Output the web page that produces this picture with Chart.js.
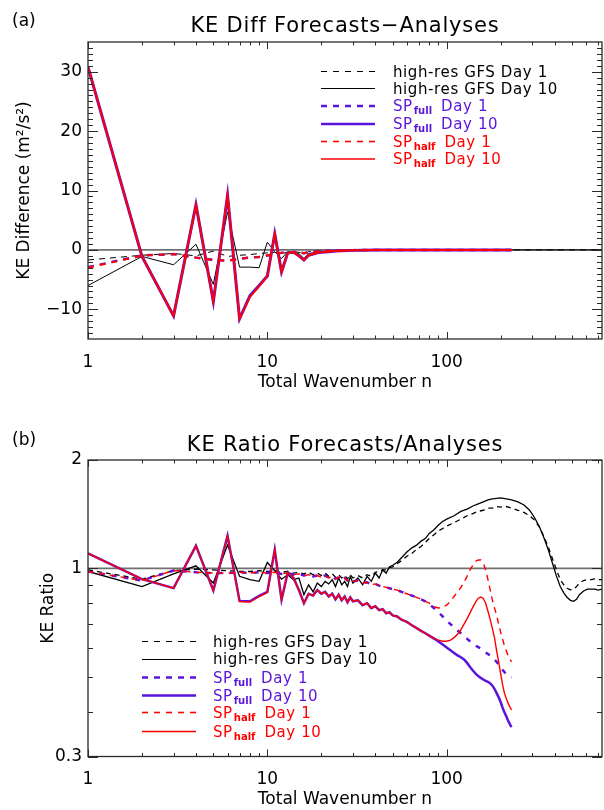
<!DOCTYPE html>
<html><head><meta charset="utf-8">
<script src="https://cdn.jsdelivr.net/npm/chart.js@4.4.1/dist/chart.umd.min.js"></script>
<style>html,body{margin:0;padding:0;background:#fff;}canvas{display:block;}</style>
</head><body>
<canvas id="ca" width="604" height="405"></canvas>
<canvas id="cb" width="604" height="405"></canvas>
<script>
// ---------- Panel (a): KE difference ----------
const nTopSP  = [1,2,3,4,5,6,7,8,9,10,11,12,13,14,15,16,17,18,19,20,22,24,26,28,30,35,40,50,70,100,150,230];
const nTopGFS = [1,2,3,4,5,6,7,8,9,10,11,12,13,14,15,16,17,18,19,20,22,24,26,28,30,35,40,50,70,100,150,230,300,450,600,735];
const diffGfsD1  = [-1.7,-0.9,-0.6,-1.0,-0.2,-1.1,-0.9,-0.8,-0.6,-0.5,-0.4,-0.6,-0.4,-0.3,-0.4,-0.6,-0.3,-0.3,-0.2,-0.2,-0.15,-0.1,-0.1,-0.08,-0.05,-0.03,-0.02,0,0,0,0,0,0,0,0,0];
const diffGfsD10 = [-6.0,-1.1,-2.5,0.95,-5.8,6.4,-2.9,-2.9,-3.0,1.3,-0.3,-1.45,-0.3,-0.5,-0.6,-1.45,-0.6,-0.5,-0.4,-0.3,-0.3,-0.2,-0.15,-0.1,-0.08,-0.05,-0.03,-0.01,0,0,0,0,0,0,0,0];
const diffFullD1  = [-2.9,-0.95,-0.7,-1.3,-1.7,-1.8,-1.5,-1.3,-1.2,-0.95,-0.7,-0.5,-0.45,-0.35,-0.4,-0.55,-0.4,-0.3,-0.25,-0.2,-0.15,-0.1,-0.08,-0.05,-0.04,-0.02,-0.01,0,0,0,0,0];
const diffFullD10 = [30.8,-1.1,-11.1,7.6,-8.7,9.2,-11.6,-7.7,-6.0,-4.4,2.7,-3.7,-0.5,-0.4,-1.0,-1.7,-0.9,-0.7,-0.5,-0.4,-0.3,-0.2,-0.15,-0.1,-0.08,-0.05,-0.03,-0.01,0,0,0,0];
const diffHalfD1  = [-3.0,-0.95,-0.7,-1.3,-1.7,-1.8,-1.5,-1.3,-1.2,-0.95,-0.7,-0.5,-0.45,-0.35,-0.4,-0.55,-0.4,-0.3,-0.25,-0.2,-0.15,-0.1,-0.08,-0.05,-0.04,-0.02,-0.01,0,0,0,0,0];
const diffHalfD10 = [30.8,-1.1,-11.1,7.6,-8.7,9.2,-11.6,-7.9,-6.1,-4.4,2.7,-3.7,-0.5,-0.4,-1.0,-1.7,-0.9,-0.7,-0.5,-0.4,-0.3,-0.2,-0.15,-0.1,-0.08,-0.05,-0.03,-0.01,0,0,0,0];
const yTicksA = [-10,0,10,20,30];

// ---------- Panel (b): KE ratio ----------
const nSP  = [1,2,3,4,5,6,7,8,9,10,11,12,13,14,15,16,17,18,19,20,21,22,23,24,25,26,27,28,29,30,32,34,36,38,40,42,44,46,48,50,53,56,60,64,68,72,76,80,85,90,95,100,105,110,115,120,125,130,135,140,145,150,155,160,165,170,175,180,185,190,195,200,205,210,215,220,225,230];
const nGFS = [1,2,3,4,5,6,7,8,9,10,11,12,13,14,15,16,17,18,19,20,21,22,23,24,25,26,27,28,29,30,32,34,36,38,40,42,44,46,48,50,53,56,60,64,68,72,76,80,85,90,95,100,110,120,130,140,150,160,170,180,190,200,215,230,250,270,290,310,330,350,370,390,410,430,450,470,490,510,530,550,580,610,640,670,700,735];
const ratioGfsD1 = [0.99,0.933,0.986,0.995,0.99,0.985,0.98,0.98,0.985,0.98,
  0.985,0.975,0.98,0.97,0.975,0.965,0.975,0.96,0.97,0.955,
  0.97,0.95,0.965,0.945,0.96,0.94,0.955,0.935,0.96,0.94,
  0.955,0.94,0.96,0.95,0.975,0.98,0.99,0.99,1.005,1.01,
  1.03,1.05,1.08,1.10,1.13,1.15,1.18,1.21,1.24,1.27,1.29,1.31,
  1.34,1.37,1.40,1.42,1.44,1.45,1.47,1.47,1.485,1.48,1.485,1.47,1.45,1.43,1.40,1.36,1.30,1.22,1.14,1.06,
  0.99,0.93,0.90,0.88,0.872,0.875,0.89,0.91,0.925,0.93,0.93,0.935,0.93,0.93];
const ratioGfsD10 = [0.98,0.89,0.965,1.016,0.91,1.16,0.95,0.93,0.92,1.038,
  0.985,0.933,0.96,0.93,0.94,0.845,0.90,0.86,0.91,0.89,
  0.92,0.905,0.93,0.89,0.94,0.90,0.92,0.89,0.95,0.91,
  0.94,0.90,0.95,0.92,0.97,0.94,0.99,0.97,1.01,1.02,
  1.04,1.07,1.11,1.14,1.16,1.19,1.21,1.25,1.28,1.32,1.35,1.37,
  1.40,1.44,1.46,1.49,1.51,1.53,1.55,1.56,1.565,1.57,1.56,1.55,1.53,1.50,1.45,1.38,1.30,1.21,1.12,1.03,
  0.95,0.89,0.855,0.83,0.815,0.81,0.82,0.845,0.865,0.875,0.875,0.875,0.87,0.875];
const ratioFullD1 = [0.98,0.925,0.986,0.975,0.97,0.97,0.975,0.97,0.975,0.97,
  0.975,0.965,0.97,0.96,0.965,0.955,0.96,0.95,0.955,0.945,
  0.955,0.94,0.95,0.935,0.945,0.93,0.94,0.925,0.935,0.92,
  0.925,0.91,0.915,0.90,0.905,0.895,0.89,0.885,0.88,0.875,
  0.87,0.86,0.85,0.84,0.83,0.82,0.81,0.795,0.775,0.755,0.735,0.715,
  0.70,0.685,0.672,0.66,0.648,0.637,0.627,0.618,0.61,0.604,0.598,0.59,0.584,0.578,0.572,0.565,0.557,0.55,0.54,0.53,
  0.522,0.515,0.508,0.503,0.50,0.498];
const ratioHalfD1 = [0.98,0.925,0.986,0.975,0.97,0.97,0.975,0.97,0.975,0.97,
  0.975,0.965,0.97,0.96,0.965,0.955,0.96,0.95,0.955,0.945,
  0.955,0.94,0.95,0.935,0.945,0.93,0.94,0.925,0.935,0.92,
  0.925,0.91,0.915,0.90,0.905,0.895,0.89,0.885,0.88,0.875,
  0.87,0.86,0.85,0.84,0.83,0.82,0.81,0.80,0.782,0.776,0.78,0.79,
  0.81,0.835,0.86,0.885,0.915,0.95,0.99,1.02,1.045,1.055,1.055,1.035,0.99,0.93,0.87,0.815,0.775,0.74,0.70,0.665,
  0.635,0.61,0.59,0.572,0.56,0.55];
const ratioFullD10 = [1.10,0.933,0.881,1.155,0.868,1.231,0.812,0.81,0.838,0.86,
  1.126,0.818,0.974,0.94,0.87,0.80,0.85,0.84,0.87,0.85,
  0.86,0.835,0.85,0.82,0.845,0.815,0.835,0.805,0.83,0.81,
  0.815,0.79,0.80,0.775,0.785,0.765,0.77,0.75,0.755,0.74,
  0.735,0.72,0.71,0.695,0.682,0.67,0.66,0.65,0.638,0.626,0.614,0.603,
  0.592,0.582,0.573,0.566,0.558,0.546,0.532,0.52,0.51,0.502,0.496,0.491,0.487,0.484,0.479,0.472,0.462,0.45,0.438,0.425,
  0.41,0.398,0.388,0.378,0.369,0.362];
const ratioHalfD10 = [1.10,0.933,0.881,1.155,0.868,1.231,0.809,0.806,0.835,0.857,
  1.126,0.818,0.974,0.94,0.87,0.80,0.85,0.84,0.87,0.85,
  0.86,0.835,0.85,0.82,0.845,0.815,0.835,0.805,0.83,0.81,
  0.815,0.79,0.80,0.775,0.785,0.765,0.77,0.75,0.755,0.74,
  0.735,0.72,0.71,0.695,0.682,0.67,0.66,0.65,0.64,0.632,0.627,0.627,
  0.632,0.642,0.656,0.675,0.70,0.725,0.752,0.78,0.805,0.826,0.832,0.825,0.80,0.76,0.72,0.68,0.64,0.59,0.55,0.51,
  0.475,0.45,0.435,0.422,0.412,0.404];
const yTicksB = [0.3,1,2];
const yMinorB = [0.4,0.5,0.6,0.7,0.8,0.9];

// ---------- shared ----------
const xTicks = [1,10,100];
const xMinor = [2,3,4,5,6,7,8,9,20,30,40,50,60,70,80,90,200,300,400,500,600,700];
const legendMain = ['high-res GFS Day 1','high-res GFS Day 10','SP','SP','SP','SP'];
const legendSub  = ['','','full','full','half','half'];
const legendRest = ['','','Day 1','Day 10','Day 1','Day 10'];

const FONT = '"DejaVu Sans", sans-serif';
const BLACK = '#000000', PURPLE = '#5a14dc', RED = '#ff0000', ZERO = '#707070', AXIS = '#2a2a2a';
const legendStyle = [
  {color: BLACK, width: 1, dash: [6,6]},
  {color: BLACK, width: 1, dash: []},
  {color: PURPLE, width: 2.5, dash: [6,6]},
  {color: PURPLE, width: 2.5, dash: []},
  {color: RED, width: 1.6, dash: [6,6]},
  {color: RED, width: 1.6, dash: []}
];

function pts(xs, ys) { return ys.map((y, i) => ({x: xs[i], y: y})); }

function deco(p) {
  return {
    id: 'deco',
    afterDatasetsDraw(chart) {
      const ctx = chart.ctx, a = chart.chartArea, xs = chart.scales.x, ys = chart.scales.y;
      ctx.save();
      ctx.strokeStyle = AXIS; ctx.lineWidth = 1.3; ctx.setLineDash([]);
      ctx.strokeRect(a.left, a.top, a.right - a.left, a.bottom - a.top);
      ctx.lineWidth = 1;
      ctx.beginPath();
      xTicks.concat(xMinor).forEach(v => {
        const px = Math.round(xs.getPixelForValue(v)) + 0.5;
        const L = xTicks.includes(v) ? 7 : 3.5;
        ctx.moveTo(px, a.bottom); ctx.lineTo(px, a.bottom - L);
        ctx.moveTo(px, a.top); ctx.lineTo(px, a.top + L);
      });
      p.yMajor.concat(p.yMinor).forEach(v => {
        const py = Math.round(ys.getPixelForValue(v)) + 0.5;
        const L = p.yMajor.includes(v) ? 10 : 5;
        ctx.moveTo(a.left, py); ctx.lineTo(a.left + L, py);
        ctx.moveTo(a.right, py); ctx.lineTo(a.right - L, py);
      });
      ctx.stroke();
      // title
      ctx.fillStyle = '#000';
      ctx.textBaseline = 'alphabetic';
      ctx.font = '21px ' + FONT;
      ctx.letterSpacing = '0.8px';
      ctx.textAlign = 'center';
      ctx.fillText(p.title, (a.left + a.right) / 2, p.titleY);
      ctx.letterSpacing = '0px';
      ctx.font = '17px ' + FONT;
      ctx.textAlign = 'left';
      ctx.fillText(p.panel, 12, p.panelY);
      // legend
      for (let i = 0; i < 6; i++) {
        const st = legendStyle[i];
        const y = st.width % 2 === 1 ? Math.floor(p.legY[i]) + 0.5 : p.legY[i];
        ctx.strokeStyle = st.color; ctx.lineWidth = st.width; ctx.setLineDash(st.dash);
        ctx.beginPath(); ctx.moveTo(p.legX0, y); ctx.lineTo(p.legX1, y); ctx.stroke();
        ctx.setLineDash([]);
        ctx.fillStyle = st.color;
        ctx.letterSpacing = '0.6px';
        ctx.font = '15px ' + FONT;
        let x = p.legText;
        const base = p.legY[i] + 5;
        ctx.fillText(legendMain[i], x, base);
        x += ctx.measureText(legendMain[i]).width;
        if (legendSub[i]) {
          ctx.font = 'bold 10px ' + FONT;
          ctx.letterSpacing = '0px';
          ctx.fillText(legendSub[i], x + 1, base + 3);
          x += ctx.measureText(legendSub[i]).width + 1;
          ctx.font = '15px ' + FONT;
          ctx.letterSpacing = '0.6px';
          ctx.fillText(legendRest[i], x + 9, base);
        }
      }
      ctx.restore();
    }
  };
}

function baseScales(cfg) {
  return {
    x: {
      type: 'logarithmic', min: 1, max: 735,
      grid: {display: false, drawTicks: false}, border: {display: false},
      afterBuildTicks: s => { s.ticks = xTicks.map(v => ({value: v})); },
      afterFit: s => { s.height = cfg.xHeight; s.paddingLeft = 0; s.paddingRight = 0; },
      ticks: {callback: v => String(v), font: {family: FONT, size: 17}, color: '#000', padding: cfg.xPad, maxRotation: 0, autoSkip: false},
      title: {display: true, text: 'Total Wavenumber n', font: {family: FONT, size: 17}, color: '#000', padding: {top: 0, bottom: cfg.xTitlePad}}
    },
    y: {
      type: cfg.yType, min: cfg.yMin, max: cfg.yMax,
      grid: {display: false, drawTicks: false}, border: {display: false},
      afterBuildTicks: s => { s.ticks = cfg.yMajor.map(v => ({value: v})); },
      afterFit: s => { s.width = 88; s.paddingTop = 0; s.paddingBottom = 0; },
      ticks: {callback: v => (v < 0 ? '\u2212' + (-v) : String(v)), font: {family: FONT, size: 17}, color: '#000', padding: 6, autoSkip: false},
      title: {display: true, text: cfg.yTitle, font: {family: FONT, size: 17}, color: '#000', padding: {top: cfg.yTitlePad, bottom: 0}}
    }
  };
}

function ds(label, data, color, width, dash, order) {
  return {label: label, data: data, borderColor: color, backgroundColor: color, borderWidth: width, borderDash: dash, order: order, pointRadius: 0, tension: 0, fill: false};
}

new Chart(document.getElementById('ca'), {
  type: 'line',
  data: {datasets: [
    ds('SPhalf Day 10', pts(nTopSP, diffHalfD10), RED, 2, [], 0),
    ds('SPhalf Day 1', pts(nTopSP, diffHalfD1), RED, 2, [6,6], 1),
    ds('SPfull Day 10', pts(nTopSP, diffFullD10), PURPLE, 3, [], 2),
    ds('SPfull Day 1', pts(nTopSP, diffFullD1), PURPLE, 2.5, [6,6], 3),
    ds('high-res GFS Day 10', pts(nTopGFS, diffGfsD10), BLACK, 1, [], 4),
    ds('high-res GFS Day 1', pts(nTopGFS, diffGfsD1), BLACK, 1, [6,5], 5),
    ds('zero', [{x: 1, y: 0}, {x: 735, y: 0}], ZERO, 1.6, [], 6)
  ]},
  options: {
    responsive: false, animation: false, devicePixelRatio: 1,
    layout: {padding: {left: 0, right: 2, top: 42, bottom: 0}},
    plugins: {legend: {display: false}, tooltip: {enabled: false}},
    scales: baseScales({xHeight: 66, xPad: 13, xTitlePad: 12, yType: 'linear', yMin: -15, yMax: 35, yMajor: yTicksA, yTitle: 'KE Difference (m\u00b2/s\u00b2)', yTitlePad: 14})
  },
  plugins: [deco({title: 'KE Diff Forecasts\u2212Analyses', titleY: 32, panel: '(a)', panelY: 26,
    yMajor: yTicksA, yMinor: [-14,-13,-12,-11,-9,-8,-7,-6,-5,-4,-3,-2,-1,1,2,3,4,5,6,7,8,9,11,12,13,14,15,16,17,18,19,21,22,23,24,25,26,27,28,29,31,32,33,34],
    legX0: 321, legX1: 375, legText: 393, legY: [71.5, 88.5, 106, 124, 141.5, 159]})]
});

new Chart(document.getElementById('cb'), {
  type: 'line',
  data: {datasets: [
    ds('SPhalf Day 10', pts(nSP, ratioHalfD10), RED, 1.4, [], 0),
    ds('SPhalf Day 1', pts(nSP, ratioHalfD1), RED, 1.4, [6,5], 1),
    ds('SPfull Day 10', pts(nSP, ratioFullD10), PURPLE, 2.5, [], 2),
    ds('SPfull Day 1', pts(nSP, ratioFullD1), PURPLE, 2.5, [5,7], 3),
    ds('high-res GFS Day 10', pts(nGFS, ratioGfsD10), BLACK, 1.3, [], 4),
    ds('high-res GFS Day 1', pts(nGFS, ratioGfsD1), BLACK, 1.3, [5,4], 5),
    ds('one', [{x: 1, y: 1}, {x: 735, y: 1}], ZERO, 1.6, [], 6)
  ]},
  options: {
    responsive: false, animation: false, devicePixelRatio: 1,
    layout: {padding: {left: 0, right: 2, top: 55, bottom: 0}},
    plugins: {legend: {display: false}, tooltip: {enabled: false}},
    scales: baseScales({xHeight: 53.5, xPad: 13, xTitlePad: 0, yType: 'logarithmic', yMin: 0.3, yMax: 2, yMajor: yTicksB, yTitle: 'KE Ratio', yTitlePad: 38})
  },
  plugins: [deco({title: 'KE Ratio Forecasts/Analyses', titleY: 45.5, panel: '(b)', panelY: 40,
    yMajor: yTicksB, yMinor: yMinorB,
    legX0: 142, legX1: 196, legText: 213, legY: [236.5, 254, 272.5, 290.5, 307.5, 326.5]})]
});
</script>
</body></html>
